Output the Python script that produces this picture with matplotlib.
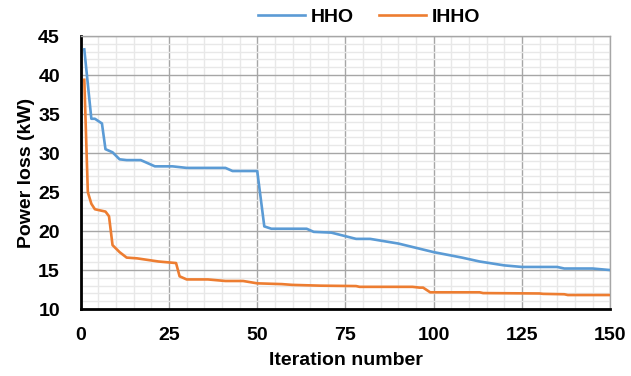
import numpy as np
import matplotlib
matplotlib.use('Agg')
import matplotlib.pyplot as plt
from matplotlib.ticker import MultipleLocator

plt.rcParams['font.family'] = ['Liberation Sans', 'DejaVu Sans']
plt.rcParams['font.weight'] = 'bold'

# Convergence of power loss over iterations (breakpoints of the curves)
hho_iter = [1, 3, 4, 6, 7, 9, 11, 13, 17, 21, 26, 30, 41, 43, 50, 52, 54, 64, 66, 71,
            78, 82, 90, 100, 108, 113, 120, 125, 135, 137, 145, 150]
hho_loss = [43.3, 34.4, 34.4, 33.8, 30.5, 30.1, 29.2, 29.1, 29.1, 28.3, 28.3, 28.1, 28.1,
            27.7, 27.7, 20.6, 20.3, 20.3, 19.9, 19.8, 19.0, 19.0, 18.4, 17.3, 16.6, 16.1,
            15.6, 15.4, 15.4, 15.2, 15.2, 15.0]

ihho_iter = [1, 2, 3, 4, 7, 8, 9, 11, 13, 16, 19, 22, 27, 28, 30, 36, 41, 46, 50, 57, 60,
             68, 78, 79, 94, 96, 97, 99, 113, 114, 130, 131, 137, 138, 150]
ihho_loss = [39.4, 25.0, 23.5, 22.8, 22.5, 21.9, 18.2, 17.3, 16.6, 16.5, 16.3, 16.1, 15.9,
             14.2, 13.8, 13.8, 13.6, 13.6, 13.3, 13.2, 13.1, 13.0, 12.95, 12.85, 12.85,
             12.75, 12.75, 12.15, 12.15, 12.05, 12.0, 11.95, 11.9, 11.8, 11.8]

colors = {'HHO': '#5B9BD5', 'IHHO': '#ED7D31'}

fig = plt.figure(figsize=(6.31, 3.76), dpi=100)
ax = fig.add_axes([0.128, 0.178, 0.839, 0.726])

ax.plot(hho_iter, hho_loss, color=colors['HHO'], lw=1.9, label='HHO', zorder=3)
ax.plot(ihho_iter, ihho_loss, color=colors['IHHO'], lw=1.9, label='IHHO', zorder=3)

ax.set_xlim(0, 150)
ax.set_ylim(10, 45)
ax.xaxis.set_major_locator(MultipleLocator(25))
ax.xaxis.set_minor_locator(MultipleLocator(5))
ax.yaxis.set_major_locator(MultipleLocator(5))
ax.yaxis.set_minor_locator(MultipleLocator(1))

ax.grid(which='minor', color='#E8E8E8', lw=1.0, zorder=0)
ax.grid(which='major', color='#A6A6A6', lw=1.0, zorder=1)
ax.set_axisbelow(True)

for side in ['top', 'right']:
  ax.spines[side].set_color('#A6A6A6')
  ax.spines[side].set_linewidth(1.0)
for side in ['left', 'bottom']:
  ax.spines[side].set_color('black')
  ax.spines[side].set_linewidth(2.0)

ax.tick_params(which='both', length=0, labelsize=14)
ax.tick_params(axis='x', pad=13)
ax.tick_params(axis='y', pad=15)
for lab in ax.get_xticklabels() + ax.get_yticklabels():
  lab.set_fontweight('bold')

ax.set_xlabel('Iteration number', fontsize=14, fontweight='bold', labelpad=6)
ax.set_ylabel('Power loss (kW)', fontsize=14, fontweight='bold', labelpad=2)

fig.legend(loc='center', bbox_to_anchor=(0.585, 0.955), ncol=2, frameon=False,
           prop={'size': 14, 'weight': 'bold'}, handlelength=2.4, handletextpad=0.3,
           columnspacing=1.3)

plt.savefig('out.png', dpi=100, facecolor='white')
